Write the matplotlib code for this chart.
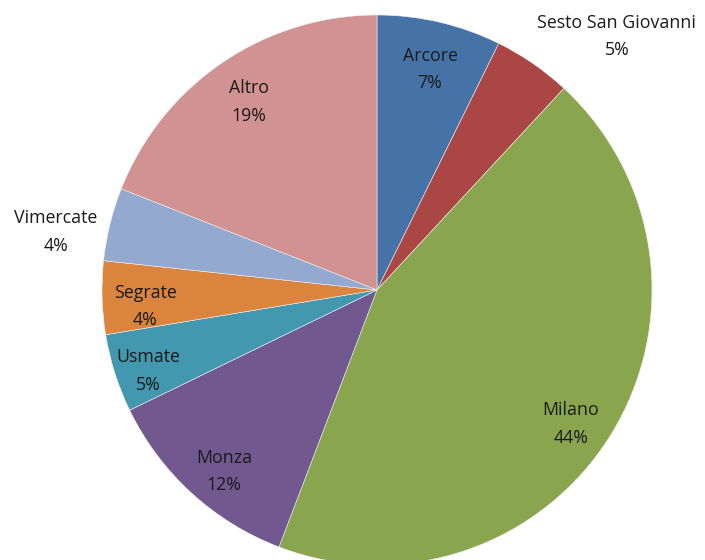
import matplotlib
matplotlib.use('Agg')
import matplotlib.pyplot as plt
import numpy as np

# data (percent shares, clockwise from 12 o'clock)
cities = ['Arcore', 'Sesto San Giovanni', 'Milano', 'Monza', 'Usmate',
          'Segrate', 'Vimercate', 'Altro']
shares = [7.3, 4.6, 43.9, 12.0, 4.6, 4.3, 4.3, 19.0]
pct_labels = ['7%', '5%', '44%', '12%', '5%', '4%', '4%', '19%']

colors = ['#4573A7', '#AA4643', '#89A54E', '#71588F', '#4198AF',
          '#DB843D', '#93A9CF', '#D19392']
# label placement (fraction of radius, angle tweak in degrees)
label_r = [0.835, 1.277, 0.852, 0.855, 0.879, 0.845, 1.188, 0.837]
label_shift = [-0.2, -8.5, -2.2, 1.9, 1.1, 1.7, 3.1, -0.4]

plt.rcParams['font.family'] = ['Open Sans', 'DejaVu Sans']


def main():
    fig = plt.figure(figsize=(7.05, 5.6), dpi=100)
    ax = fig.add_axes([0, 0, 1, 1])

    wedges, _ = ax.pie(shares, colors=colors, startangle=90, counterclock=False,
                       radius=1.0, wedgeprops=dict(edgecolor='#f0f0f0', linewidth=0.4))

    for w, name, pct, r, sh in zip(wedges, cities, pct_labels, label_r, label_shift):
        mid = np.deg2rad((w.theta1 + w.theta2) / 2 + sh)
        x, y = r * np.cos(mid), r * np.sin(mid) - 3 / 275
        ax.text(x, y, name + '\n' + pct, ha='center', va='center',
                fontsize=12.8, color='#1a1a1a', linespacing=1.7)

    # pie centre sits at (377, 290) px with a 275 px radius
    ax.set_xlim(-377 / 275, (705 - 377) / 275)
    ax.set_ylim(-(560 - 290) / 275, 290 / 275)
    ax.axis('off')

    fig.savefig('out.png', dpi=100)


if __name__ == '__main__':
    main()
